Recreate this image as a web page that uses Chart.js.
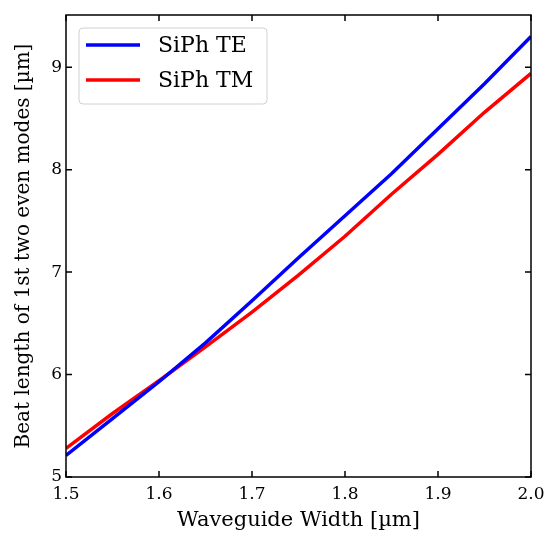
<!DOCTYPE html>
<html>
<head>
<meta charset="utf-8">
<script src="https://cdn.jsdelivr.net/npm/chart.js@4/dist/chart.umd.min.js"></script>
<style>
  html, body { margin: 0; padding: 0; background: #fff; }
  #wrap { width: 560px; height: 551px; }
</style>
</head>
<body>
<div id="wrap"><canvas id="chart" width="560" height="551"></canvas></div>
<script>
const widths = [1.5, 1.55, 1.6, 1.65, 1.7, 1.75, 1.8, 1.85, 1.9, 1.95, 2.0];
const teBeat = [5.21, 5.57, 5.93, 6.31, 6.72, 7.14, 7.55, 7.96, 8.40, 8.84, 9.30];
const tmBeat = [5.28, 5.62, 5.94, 6.27, 6.61, 6.97, 7.35, 7.76, 8.15, 8.56, 8.94];
const xTicks = [1.5, 1.6, 1.7, 1.8, 1.9, 2.0];
const yTicks = [5, 6, 7, 8, 9];

const font = "'DejaVu Serif', 'Liberation Serif', serif";

const toPoints = (xs, ys) => xs.map((x, i) => ({ x: x, y: ys[i] }));

// inward ticks on all four sides, frame, and boxed legend
const framePlugin = {
  id: "frame",
  afterDraw(chart) {
    const ctx = chart.ctx;
    const a = chart.chartArea;
    const xs = chart.scales.x;
    const ys = chart.scales.y;
    ctx.save();
    ctx.strokeStyle = "#000";
    ctx.lineWidth = 1.5;
    ctx.strokeRect(a.left, a.top, a.right - a.left, a.bottom - a.top);
    ctx.beginPath();
    xTicks.forEach(t => {
      const px = xs.getPixelForValue(t);
      ctx.moveTo(px, a.bottom); ctx.lineTo(px, a.bottom - 6);
      ctx.moveTo(px, a.top); ctx.lineTo(px, a.top + 6);
    });
    yTicks.forEach(t => {
      const py = ys.getPixelForValue(t);
      ctx.moveTo(a.left, py); ctx.lineTo(a.left + 6, py);
      ctx.moveTo(a.right, py); ctx.lineTo(a.right - 6, py);
    });
    ctx.stroke();

    // legend
    const lx = a.left + 13, ly = a.top + 13, lw = 188, lh = 76;
    ctx.fillStyle = "rgba(255,255,255,0.85)";
    ctx.strokeStyle = "#d0d0d0";
    ctx.lineWidth = 1;
    ctx.beginPath();
    ctx.roundRect(lx, ly, lw, lh, 4);
    ctx.fill();
    ctx.stroke();
    ctx.font = "22px " + font;
    ctx.textBaseline = "middle";
    chart.data.datasets.forEach((ds, i) => {
      const yy = ly + 17 + i * 35;
      ctx.strokeStyle = ds.borderColor;
      ctx.lineWidth = 3.5;
      ctx.beginPath();
      ctx.moveTo(lx + 7, yy); ctx.lineTo(lx + 61, yy);
      ctx.stroke();
      ctx.fillStyle = "#000";
      ctx.fillText(ds.label, lx + 79, yy + 1);
    });
    ctx.restore();
  }
};

new Chart(document.getElementById("chart"), {
  type: "line",
  data: {
    datasets: [
      { label: "SiPh TE", data: toPoints(widths, teBeat), borderColor: "#0000ff", borderWidth: 3.5, pointRadius: 0, tension: 0 },
      { label: "SiPh TM", data: toPoints(widths, tmBeat), borderColor: "#ff0000", borderWidth: 3.5, pointRadius: 0, tension: 0 }
    ]
  },
  options: {
    responsive: false,
    animation: false,
    layout: { padding: { top: 15, right: 29, left: 12, bottom: 18 } },
    plugins: { legend: { display: false }, tooltip: { enabled: false } },
    scales: {
      x: {
        type: "linear",
        min: 1.5,
        max: 2.0,
        afterBuildTicks: s => { s.ticks = xTicks.map(v => ({ value: v })); },
        afterFit: s => { s.height = 56; },
        grid: { display: false, drawTicks: false },
        border: { display: false },
        ticks: { color: "#000", font: { family: font, size: 17 }, padding: 7, maxRotation: 0, callback: v => v.toFixed(1) },
        title: { display: true, text: "Waveguide Width [µm]", color: "#000", font: { family: font, size: 21 }, padding: { top: 4, bottom: 0 } }
      },
      y: {
        type: "linear",
        min: 5,
        max: 9.51,
        afterBuildTicks: s => { s.ticks = yTicks.map(v => ({ value: v })); },
        afterFit: s => { s.width = 54; },
        grid: { display: false, drawTicks: false },
        border: { display: false },
        ticks: { color: "#000", font: { family: font, size: 17 }, padding: 4, callback: v => String(v) },
        title: { display: true, text: "Beat length of 1st two even modes [µm]", color: "#000", font: { family: font, size: 20 }, padding: { top: 0, bottom: 4 } }
      }
    }
  },
  plugins: [framePlugin]
});
</script>
</body>
</html>
